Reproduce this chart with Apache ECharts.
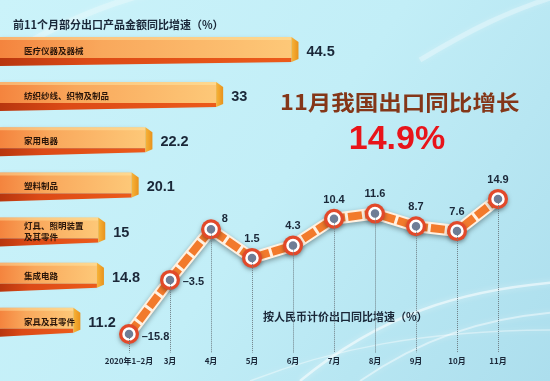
<!DOCTYPE html>
<html>
<head>
<meta charset="utf-8">
<script src="https://cdn.jsdelivr.net/npm/echarts@6/dist/echarts.min.js"></script>
<style>html,body{margin:0;padding:0;}#c{width:550px;height:381px;}</style>
</head>
<body>
<div id="c"></div>
<script>
const barCategories = ['医疗仪器及器械', '纺织纱线、织物及制品', '家用电器', '塑料制品', '灯具、照明装置\n及其零件', '集成电路', '家具及其零件'];
const barValues = [44.5, 33, 22.2, 20.1, 15, 14.8, 11.2];
const months = ['2020年1–2月', '3月', '4月', '5月', '6月', '7月', '8月', '9月', '10月', '11月'];
const growth = [-15.8, -3.5, 8, 1.5, 4.3, 10.4, 11.6, 8.7, 7.6, 14.9];

const chart = echarts.init(document.getElementById('c'));
const LG = echarts.graphic.LinearGradient;
const NUMFONT = '"Liberation Sans", Arial, sans-serif';
const CJK = '"Noto Sans CJK SC", sans-serif';
const dark = '#1a2738';

function renderBar(params, api) {
  const v = api.value(0), i = api.value(1);
  const s = api.coord([0, i]);
  const e = api.coord([v, i]);
  const x0 = s[0], xe = e[0], yc = e[1];
  const sw = 7;
  return {
    type: 'group',
    children: [
      { type: 'rect', shape: { x: x0, y: yc - 14, width: xe - x0, height: 21 },
        style: { fill: new LG(0, 0, 1, 0, [{ offset: 0, color: '#f4843e' }, { offset: 0.35, color: '#f9a85c' }, { offset: 1, color: '#fdc878' }]),
                 shadowBlur: 4, shadowColor: 'rgba(0,0,0,0.25)', shadowOffsetY: 2 } },
      { type: 'rect', shape: { x: x0, y: yc - 14, width: xe - x0, height: 3 },
        style: { fill: 'rgba(255,235,170,0.45)' } },
      { type: 'polygon', shape: { points: [[x0, yc + 7], [xe, yc + 7], [xe, yc + 11], [x0, yc + 15]] },
        style: { fill: new LG(0, 0, 1, 0, [{ offset: 0, color: '#b8360e' }, { offset: 0.3, color: '#dc4a16' }, { offset: 1, color: '#ec5a1a' }]) } },
      { type: 'polygon', shape: { points: [[xe, yc - 14], [xe + sw, yc - 9], [xe + sw, yc + 8], [xe, yc + 11]] },
        style: { fill: new LG(0, 0, 1, 0, [{ offset: 0, color: '#f7b43a' }, { offset: 1, color: '#e8921c' }]) } },
      { type: 'text', style: { text: barCategories[i], x: x0 + 24, y: yc - 0.5, align: 'left', verticalAlign: 'middle',
          font: 'bold 8.5px ' + CJK, fill: '#2a160a', lineHeight: 11 } },
      { type: 'text', style: { text: String(v), x: xe + 15, y: yc + 1, align: 'left', verticalAlign: 'middle',
          font: 'bold 14.5px ' + NUMFONT, fill: dark } }
    ]
  };
}

const labelPos = growth.map((v, i) => {
  if (i === 0) return { position: 'right', distance: 6, offset: [0, 3] };
  if (i === 1) return { position: 'right', distance: 6, offset: [0, 2] };
  if (i === 2) return { position: 'right', distance: 4, offset: [0, -10] };
  return { position: 'top', distance: 7 };
});

const streak = (x1, y1, c1x, c1y, c2x, c2y, x2, y2, w, a) => ({
  type: 'bezierCurve', silent: true, z: -10,
  shape: { x1, y1, cpx1: c1x, cpy1: c1y, cpx2: c2x, cpy2: c2y, x2, y2 },
  style: { stroke: 'rgba(255,255,255,' + a + ')', lineWidth: w, fill: null, shadowBlur: 6, shadowColor: 'rgba(255,255,255,0.8)' }
});

const option = {
  backgroundColor: new LG(0, 0, 1, 1, [
    { offset: 0, color: '#cbf3fa' }, { offset: 0.5, color: '#c2eef7' }, { offset: 1, color: '#acdeed' }
  ]),
  animation: false,
  grid: [
    { left: -16, width: 343.5, top: 28.4, height: 316 },
    { left: 129, right: 52, top: 176.5, bottom: 28.5 }
  ],
  xAxis: [
    { gridIndex: 0, type: 'value', min: 0, max: 50, show: false },
    { gridIndex: 1, type: 'category', data: months, boundaryGap: false,
      axisLine: { show: false }, axisTick: { show: false },
      axisLabel: { margin: 4, fontSize: 8, fontWeight: 'bold', color: dark, fontFamily: CJK, interval: 0 } }
  ],
  yAxis: [
    { gridIndex: 0, type: 'category', data: barCategories, inverse: true, show: false },
    { gridIndex: 1, type: 'value', min: -20, max: 20, show: false }
  ],
  graphic: [
    streak(300, 381, 380, 315, 460, 290, 560, 282, 2.5, 0.55),
    streak(360, 381, 420, 340, 480, 318, 560, 312, 2, 0.45),
    streak(250, 381, 330, 350, 420, 330, 560, 330, 1.5, 0.4),
    streak(0, 60, 60, 20, 120, 0, 160, -10, 6, 0.25),
    streak(420, 60, 470, 30, 510, 10, 560, -5, 5, 0.3),
    { type: 'text', left: 13, top: 19, style: { text: '前11个月部分出口产品金额同比增速（%）', font: 'bold 11px ' + CJK, fill: dark } },
    { type: 'text', x: 280, y: 102, scaleX: 1.12, style: { text: '11月我国出口同比增长', font: 'bold 21px ' + CJK, fill: '#843618', verticalAlign: 'middle' } },
    { type: 'text', x: 397, y: 140, style: { text: '14.9%', font: 'bold 34px ' + NUMFONT, fill: '#e8141a', align: 'center', verticalAlign: 'middle' } },
    { type: 'text', x: 263, y: 317, style: { text: '按人民币计价出口同比增速（%）', font: 'bold 11px ' + CJK, fill: dark, verticalAlign: 'middle' } }
  ],
  series: [
    { type: 'custom', xAxisIndex: 0, yAxisIndex: 0, renderItem: renderBar,
      data: barValues.map((v, i) => [v, i]), encode: { x: 0, y: 1 } },
    { type: 'line', xAxisIndex: 1, yAxisIndex: 1, data: growth, symbol: 'none', z: 2,
      lineStyle: { width: 12, color: '#fff1e2', shadowBlur: 5, shadowColor: 'rgba(0,0,0,0.35)', shadowOffsetY: 2 },
      markLine: { silent: true, symbol: 'none', label: { show: false },
        lineStyle: { type: 'dotted', color: '#6f7f86', width: 1 },
        data: growth.map((v, i) => [{ coord: [i, v] }, { coord: [i, -20] }]) } },
    { type: 'line', xAxisIndex: 1, yAxisIndex: 1, data: growth, z: 3,
      symbol: 'circle', symbolSize: 20,
      itemStyle: { color: '#e2492a', shadowBlur: 4, shadowColor: 'rgba(0,0,0,0.35)', shadowOffsetY: 2 },
      lineStyle: { width: 8, color: '#f27a2c', type: [14, 3] } },
    { type: 'scatter', xAxisIndex: 1, yAxisIndex: 1, z: 4, symbolSize: 11,
      itemStyle: { color: '#6f7d96', borderColor: '#ffffff', borderWidth: 2.5, opacity: 1 },
      data: growth.map((v, i) => ({ value: v, label: Object.assign({ show: true }, labelPos[i]) })),
      label: { fontSize: 11, fontWeight: 'bold', color: dark, fontFamily: NUMFONT,
        formatter: p => String(p.value).replace('-', '–') } }
  ]
};
chart.setOption(option);
</script>
</body>
</html>
